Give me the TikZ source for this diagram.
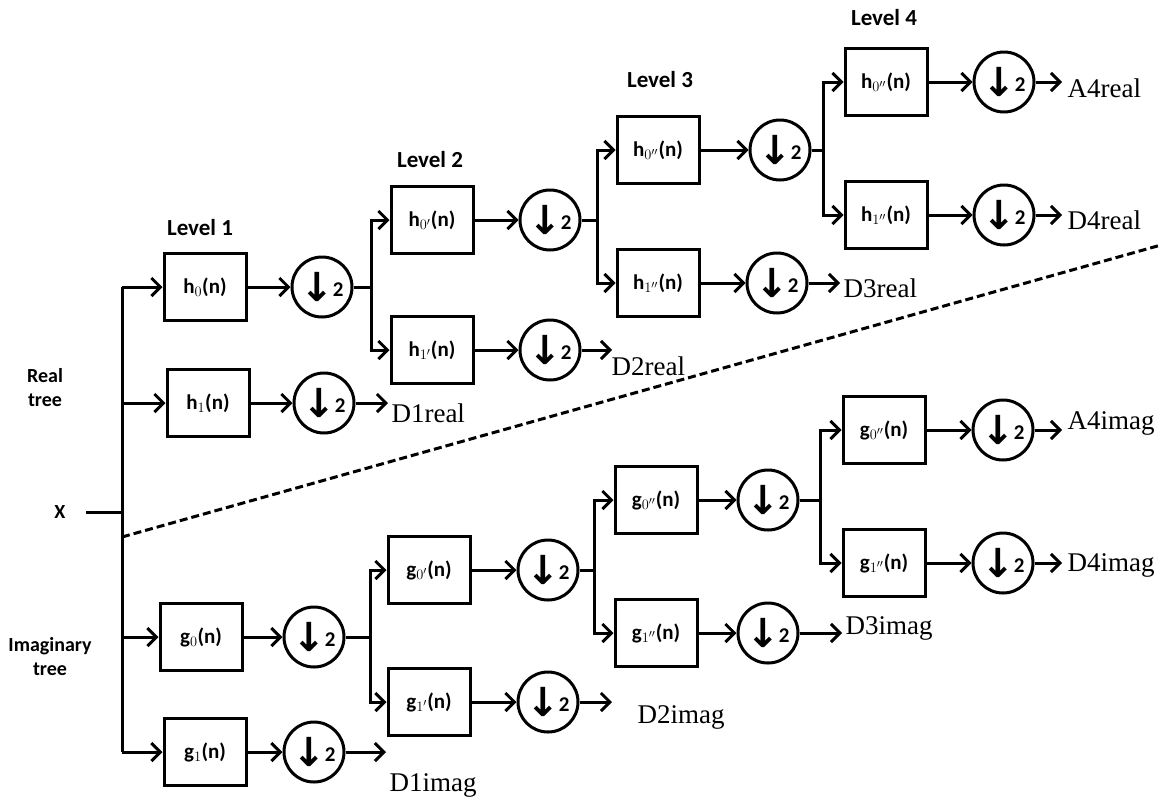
\documentclass[tikz,border=0pt]{standalone}
\usepackage{fontspec}
\setmainfont{Liberation Serif}
\newfontfamily\calfont{Carlito}
\newfontfamily\djv{DejaVu Sans}
\usetikzlibrary{arrows.meta}
\tikzset{
  fbox/.style={draw, line width=3pt, minimum width=82pt, minimum height=67pt, inner sep=0pt, font=\calfont\bfseries\fontsize{21}{21}\selectfont},
  dcirc/.style={draw, circle, line width=3pt, minimum size=60pt, inner sep=0pt},
  arr/.style={line width=3pt, -{Straight Barb[length=9pt,width=18pt,line width=3pt]}},
  ln/.style={line width=3pt},
  lvl/.style={font=\calfont\bfseries\fontsize{23}{23}\selectfont},
  outl/.style={font=\fontsize{27}{27}\selectfont, anchor=west},
  side/.style={font=\calfont\bfseries\fontsize{20}{24}\selectfont, align=center},
}
\newcommand{\dn}{\raisebox{-3pt}{\djv\bfseries\fontsize{40}{40}\selectfont ↓}\kern-1pt\raisebox{2pt}{\calfont\bfseries\fontsize{21}{21}\selectfont 2}}
\begin{document}
\begin{tikzpicture}[x=1pt,y=-1pt]
\useasboundingbox (0,0) rectangle (1161,801);
% side labels
\node[side] (X) at (60,512) {X};
\node[side] (rt) at (45,388) {Real\\tree};
\node[side] (it) at (50,657) {Imaginary\\tree};
\node[lvl] (l1) at (200,228) {Level 1};
\node[lvl] (l2) at (430,160) {Level 2};
\node[lvl] (l3) at (660,80) {Level 3};
\node[lvl] (l4) at (884,18) {Level 4};
\coordinate (J) at (122,512);
\coordinate (Xe) at (86,512);
% real tree
\node[fbox] (R1a) at (205,287) {h$_0$(n)};
\node[dcirc] (R1ac) at (322,287) {\dn};
\node[fbox] (R1b) at (208,403) {h$_1$(n)};
\node[dcirc] (R1bc) at (324,403) {\dn};
\coordinate (R1e) at (388,403);
\node[outl] (D1r) at (388,413) {D1real};
\coordinate (B2r) at (371,287);
\node[fbox] (R2a) at (432,220) {h$_{0'}$(n)};
\node[dcirc] (R2ac) at (550,220) {\dn};
\node[fbox] (R2b) at (432,350) {h$_{1'}$(n)};
\node[dcirc] (R2bc) at (550,350) {\dn};
\coordinate (R2e) at (612,350);
\node[outl] (D2r) at (608,366) {D2real};
\coordinate (B3r) at (597,220);
\node[fbox] (R3a) at (658,150) {h$_{0''}$(n)};
\node[dcirc] (R3ac) at (780,150) {\dn};
\node[fbox] (R3b) at (658,283) {h$_{1''}$(n)};
\node[dcirc] (R3bc) at (777,283) {\dn};
\coordinate (R3e) at (840,283);
\node[outl] (D3r) at (840,288) {D3real};
\coordinate (B4r) at (823,150);
\node[fbox] (R4a) at (886,82) {h$_{0''}$(n)};
\node[dcirc] (R4ac) at (1004,82) {\dn};
\coordinate (R4ae) at (1062,82);
\node[outl] (A4r) at (1064,88) {A4real};
\node[fbox] (R4b) at (886,215) {h$_{1''}$(n)};
\node[dcirc] (R4bc) at (1004,215) {\dn};
\coordinate (R4be) at (1062,215);
\node[outl] (D4r) at (1064,220) {D4real};
% imaginary tree
\node[fbox] (I1a) at (201,637) {g$_0$(n)};
\node[dcirc] (I1ac) at (314,637) {\dn};
\node[fbox] (I1b) at (205,752) {g$_1$(n)};
\node[dcirc] (I1bc) at (314,752) {\dn};
\coordinate (I1e) at (386,752);
\node[outl] (D1i) at (386,785) {D1imag};
\coordinate (B2i) at (370,637);
\node[fbox] (I2a) at (429,570) {g$_{0'}$(n)};
\node[dcirc] (I2ac) at (548,570) {\dn};
\node[fbox] (I2b) at (429,702) {g$_{1'}$(n)};
\node[dcirc] (I2bc) at (548,702) {\dn};
\coordinate (I2e) at (612,702);
\node[outl] (D2i) at (634,717) {D2imag};
\coordinate (B3i) at (594,570);
\node[fbox] (I3a) at (656,500) {g$_{0''}$(n)};
\node[dcirc] (I3ac) at (768,500) {\dn};
\node[fbox] (I3b) at (656,633) {g$_{1''}$(n)};
\node[dcirc] (I3bc) at (768,633) {\dn};
\coordinate (I3e) at (842,633);
\node[outl] (D3i) at (842,628) {D3imag};
\coordinate (B4i) at (820,500);
\node[fbox] (I4a) at (884,430) {g$_{0''}$(n)};
\node[dcirc] (I4ac) at (1003,430) {\dn};
\coordinate (I4ae) at (1062,430);
\node[outl] (A4i) at (1064,423) {A4imag};
\node[fbox] (I4b) at (884,563) {g$_{1''}$(n)};
\node[dcirc] (I4bc) at (1003,563) {\dn};
\coordinate (I4be) at (1062,563);
\node[outl] (D4i) at (1064,565) {D4imag};
% connectors
\draw[ln] (Xe) -- (J);
\draw[ln] (J |- R1a) -- (J |- I1b);
\draw[arr] (J |- R1a) -- (R1a.west);
\draw[arr] (J |- R1b) -- (R1b.west);
\draw[arr] (J |- I1a) -- (I1a.west);
\draw[arr] (J |- I1b) -- (I1b.west);
\foreach \b in {R1a,R1b,R2a,R2b,R3a,R3b,R4a,R4b,I1a,I1b,I2a,I2b,I3a,I3b,I4a,I4b}
  \draw[arr] (\b.east) -- (\b c.west);
\draw[arr] (R1bc.east) -- (R1e);
\draw[arr] (R2bc.east) -- (R2e);
\draw[arr] (R3bc.east) -- (R3e);
\draw[arr] (R4ac.east) -- (R4ae);
\draw[arr] (R4bc.east) -- (R4be);
\draw[arr] (I1bc.east) -- (I1e);
\draw[arr] (I2bc.east) -- (I2e);
\draw[arr] (I3bc.east) -- (I3e);
\draw[arr] (I4ac.east) -- (I4ae);
\draw[arr] (I4bc.east) -- (I4be);
% branches
\draw[ln] (R1ac.east) -- (B2r);
\draw[arr] (B2r) |- (R2a.west);
\draw[arr] (B2r) |- (R2b.west);
\draw[ln] (R2ac.east) -- (B3r);
\draw[arr] (B3r) |- (R3a.west);
\draw[arr] (B3r) |- (R3b.west);
\draw[ln] (R3ac.east) -- (B4r);
\draw[arr] (B4r) |- (R4a.west);
\draw[arr] (B4r) |- (R4b.west);
\draw[ln] (I1ac.east) -- (B2i);
\draw[arr] (B2i) |- (I2a.west);
\draw[arr] (B2i) |- (I2b.west);
\draw[ln] (I2ac.east) -- (B3i);
\draw[arr] (B3i) |- (I3a.west);
\draw[arr] (B3i) |- (I3b.west);
\draw[ln] (I3ac.east) -- (B4i);
\draw[arr] (B4i) |- (I4a.west);
\draw[arr] (B4i) |- (I4b.west);
% separator
\coordinate (S1) at (122,537);
\coordinate (S2) at (1161,245);
\draw[line width=3pt, dash pattern=on 8pt off 4pt] (S1) -- (S2);
\end{tikzpicture}
\end{document}
